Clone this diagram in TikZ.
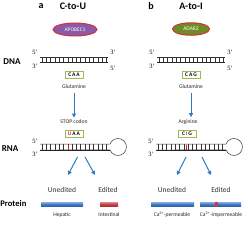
\documentclass[tikz,border=0pt]{standalone}
\usepackage{fontspec}
\setmainfont{Carlito}
\newfontfamily\tms{Liberation Serif}
\usetikzlibrary{arrows.meta,shapes.geometric}
\definecolor{arrblue}{HTML}{2B7BC9}
\definecolor{codongreen}{HTML}{9BBB59}
\definecolor{apopurple}{HTML}{8A5AA8}
\definecolor{adargreen}{HTML}{6E8C25}
\definecolor{ringred}{HTML}{D2313A}
\definecolor{barblue}{HTML}{3A78C6}
\definecolor{barred}{HTML}{C93A3E}
\definecolor{editred}{HTML}{E02030}
\tikzset{
  every node/.style={inner sep=0pt, outer sep=0pt},
  ttl/.style={font=\bfseries\fontsize{10}{10}\selectfont},
  rowlab/.style={font=\bfseries\fontsize{9}{9}\selectfont},
  small/.style={font=\fontsize{5.6}{5.6}\selectfont, text=black!85},
  mid/.style={font=\fontsize{7.5}{7.5}\selectfont, text=black!80},
  prm/.style={font=\tms\fontsize{6.5}{6.5}\selectfont},
  codon/.style={draw=codongreen, line width=0.8pt, minimum width=18pt, minimum height=7.5pt, font=\bfseries\fontsize{5.5}{5.5}\selectfont},
  enzyme/.style={ellipse, draw=ringred, line width=1pt, text=white, font=\fontsize{5.5}{5.5}\selectfont},
  flow/.style={-{Triangle[length=4pt,width=4pt]}, arrblue, line width=1pt},
  strandA/.style={line width=0.5pt, black!80},
  strandB/.style={line width=1pt, black!85},
  rung/.style={line width=0.6pt, black!80},
  bluebar/.style={top color=barblue!60, bottom color=barblue!80!black, middle color=barblue},
  redbar/.style={top color=barred!60, bottom color=barred!80!black, middle color=barred},
}
\begin{document}
\begin{tikzpicture}[x=1pt,y=-1pt]
\useasboundingbox (0,0) rectangle (248,225);

% titles
\node[ttl] (la) at (41,6) {a};
\node[ttl] (ta) at (73,6) {C-to-U};
\node[ttl] (lb) at (151,6) {b};
\node[ttl] (tb) at (191,6) {A-to-I};

% enzymes
\node[enzyme, fill=apopurple, minimum width=44pt, minimum height=13pt] (apo) at (75,29.5) {APOBEC1};
\node[enzyme, fill=adargreen, minimum width=37pt, minimum height=12.5pt] (adar) at (191,29) {ADAR2};

% row labels
\node[rowlab] (dna) at (12,62) {DNA};
\node[rowlab] (rna) at (10,149) {RNA};
\node[rowlab, anchor=west, font=\bfseries\fontsize{8.6}{8.6}\selectfont] (prot) at (0.3,203.5) {Protein};

% ---------- left DNA ----------
\draw[strandA] (40,57) -- (108,57);
\draw[strandB] (40,62) -- (108,62);
\foreach \x in {42,46.3,...,107} \draw[rung] (\x,57) -- (\x,62);
\node[prm] (d5a) at (35,52) {5’};
\node[prm] (d3a) at (35,66) {3’};
\node[prm] (d3b) at (113,52) {3’};
\node[prm] (d5b) at (113,68) {5’};

% ---------- right DNA ----------
\draw[strandA] (157,57) -- (225,57);
\draw[strandB] (157,62) -- (225,62);
\foreach \x in {159,163.3,...,224} \draw[rung] (\x,57) -- (\x,62);
\node[prm] (e5a) at (152,52) {5’};
\node[prm] (e3a) at (152,66) {3’};
\node[prm] (e3b) at (230,52) {3’};
\node[prm] (e5b) at (230,68) {5’};

% codons DNA
\node[codon] (caa) at (74,75) {C\,A\,A};
\node[codon] (cag) at (191,75) {C\,A\,G};
\node[small] (glnA) at (74,87) {Glutamine};
\node[small] (glnB) at (191,87) {Glutamine};

\node[small] (stop) at (74,122) {STOP codon};
\node[small] (arg) at (188,122) {Arginine};
\node[codon] (uaa) at (74,134) {\textcolor{editred}{U}\,A\,A};
\node[codon] (cig) at (187,134) {C\,\textcolor{editred}{I}\,G};

\draw[flow, shorten <=4pt, shorten >=2.5pt] (glnA.south) -- (glnA.south |- stop.north);
\draw[flow, shorten <=4pt, shorten >=2.5pt] (glnB.south) -- (glnB.south |- arg.north);

% ---------- left RNA ----------
\draw[strandA] (40,144) -- (110,144) arc[start angle=200.6, end angle=519.4, radius=8.5] -- (40,150);
\draw[strandB] (40,150) -- (110,150);
\foreach \x in {42,46.3,...,109} \draw[rung] (\x,144) -- (\x,150);
\draw[line width=0.8pt, editred] (68.5,144.5) -- (68.5,149.5);
\node[prm] (r5a) at (35,141) {5’};
\node[prm] (r3a) at (35,154) {3’};

% ---------- right RNA ----------
\draw[strandA] (156,144) -- (226,144) arc[start angle=200.6, end angle=519.4, radius=8.5] -- (156,150);
\draw[strandB] (156,150) -- (226,150);
\foreach \x in {158,162.3,...,225} \draw[rung] (\x,144) -- (\x,150);
\draw[line width=0.8pt, editred] (186,144.5) -- (186,149.5);
\node[prm] (s5a) at (151,141) {5’};
\node[prm] (s3a) at (151,154) {3’};

% diverging arrows
\coordinate (ra1) at (77.5,157);
\coordinate (ra2) at (85,157);
\coordinate (sa1) at (186,157);
\coordinate (sa2) at (202,157);
\coordinate (ta1) at (68,175);
\coordinate (ta2) at (95,175);
\coordinate (tb1) at (177,175);
\coordinate (tb2) at (211,175);
\draw[flow] (ra1) -- (ta1);
\draw[flow] (ra2) -- (ta2);
\draw[flow] (sa1) -- (tb1);
\draw[flow] (sa2) -- (tb2);

% outcome labels
\node[mid] (unA) at (62,190) {Unedited};
\node[mid] (edA) at (108,190) {Edited};
\node[mid] (unB) at (172,190) {Unedited};
\node[mid] (edB) at (221,190) {Edited};

% bars
\shade[bluebar] (41,202) rectangle (83,206.5);
\shade[redbar] (100,202) rectangle (118,206.5);
\shade[bluebar] (151,202) rectangle (194,206.5);
\shade[bluebar] (200,202) rectangle (241,206.5);
\fill[barred] (214.5,201.5) rectangle (217.5,207);

\node[small] (hep) at (62,215) {Hepatic};
\node[small] (int) at (109,215) {Intestinal};
\node[small] (perm) at (172,214.5) {Ca\textsuperscript{2+}-permeable};
\node[small] (imp) at (221,214.5) {Ca\textsuperscript{2+}-impermeable};
\end{tikzpicture}
\end{document}
